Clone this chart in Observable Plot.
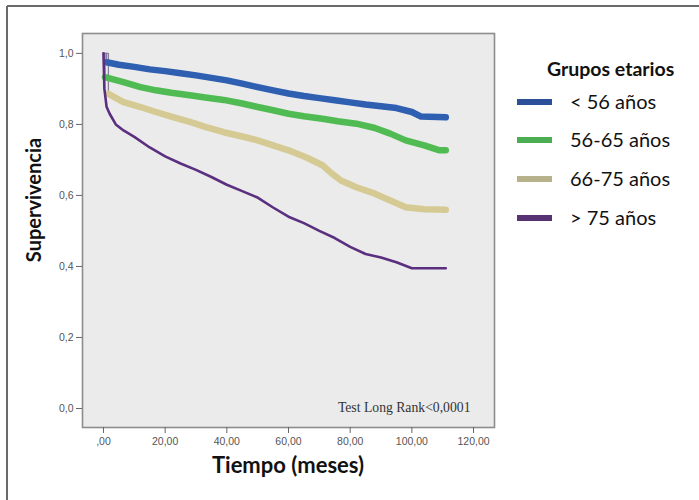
<!DOCTYPE html>
<html><head><meta charset="utf-8">
<script src="https://cdn.jsdelivr.net/npm/d3@7"></script>
<script src="https://cdn.jsdelivr.net/npm/@observablehq/plot@0.6"></script>
<style>body{margin:0;background:#fff}#chart{width:699px;height:500px}</style>
</head><body><div id="chart"></div>
<script>
// ---- data ----
const groups = ["< 56 años", "56-65 años", "66-75 años", "> 75 años"];
const legendTitle = "Grupos etarios";
const xLabel = "Tiempo (meses)";
const yLabel = "Supervivencia";
const note = "Test Long Rank<0,0001";

const tLt56 = [0, 1, 5, 10, 15, 20, 25, 30, 35, 40, 45, 50, 55, 60, 65, 70, 75, 80, 85, 90, 95, 100, 103, 111];
const sLt56 = [1.0, 0.975, 0.968, 0.962, 0.955, 0.950, 0.944, 0.938, 0.931, 0.924, 0.915, 0.905, 0.896, 0.887, 0.880, 0.874, 0.868, 0.862, 0.856, 0.851, 0.846, 0.835, 0.822, 0.820];

const t5665 = [0, 0.5, 6.5, 12, 17, 22, 28, 33, 39, 45, 50, 55, 60, 65, 71, 76, 82, 88, 93, 98, 104, 109, 111];
const s5665 = [1.0, 0.933, 0.919, 0.905, 0.896, 0.889, 0.882, 0.876, 0.869, 0.859, 0.849, 0.840, 0.830, 0.823, 0.816, 0.809, 0.802, 0.790, 0.774, 0.755, 0.741, 0.727, 0.727];

const t6675 = [0, 1.6, 6.5, 12, 17, 22, 28, 33, 39, 45, 50, 55, 60, 66, 71, 74, 77, 82, 88, 93, 98, 104, 111];
const s6675 = [1.0, 0.886, 0.863, 0.849, 0.835, 0.822, 0.807, 0.793, 0.778, 0.766, 0.755, 0.741, 0.727, 0.706, 0.685, 0.662, 0.642, 0.623, 0.605, 0.586, 0.567, 0.561, 0.560];

const tGt75 = [0, 0.3, 1, 2, 4, 6.5, 10, 15, 20, 25, 30, 35, 40, 45, 50, 55, 60, 65, 70, 75, 80, 85, 90, 95, 100, 111];
const sGt75 = [1.0, 0.90, 0.85, 0.83, 0.80, 0.783, 0.765, 0.735, 0.71, 0.69, 0.672, 0.652, 0.63, 0.612, 0.594, 0.566, 0.54, 0.522, 0.50, 0.48, 0.455, 0.435, 0.425, 0.412, 0.395, 0.395];

const xTicks = [0, 20, 40, 60, 80, 100, 120];
const xTickLabels = [",00", "20,00", "40,00", "60,00", "80,00", "100,00", "120,00"];
const yTicks = [0, 0.2, 0.4, 0.6, 0.8, 1.0];
const yTickLabels = ["0,0", "0,2", "0,4", "0,6", "0,8", "1,0"];

// ---- styles ----
const lineColors = ["#2f5fb0", "#50bb52", "#d5ca94", "#5b2f7f"];
const swatchColors = ["#2b4f98", "#4cae52", "#b8b28c", "#573374"];

const series = [[tLt56, sLt56], [t5665, s5665], [t6675, s6675], [tGt75, sGt75]];
const rows = [];
series.forEach(([ts, ss], gi) => ts.forEach((t, i) => rows.push({g: groups[gi], t, s: ss[i]})));
const xFmt = new Map(xTicks.map((d, i) => [d, xTickLabels[i]]));
const yFmt = new Map(yTicks.map((d, i) => [d, yTickLabels[i]]));

const thick = rows.filter(d => d.g !== groups[3] && d.t > 0);
const thin = rows.filter(d => d.g === groups[3]);
const starts = rows.filter(d => d.t === 0 || d === rows.find(r => r.g === d.g && r.t > 0));

const chart = Plot.plot({
  width: 699, height: 500,
  marginLeft: 82, marginRight: 205, marginTop: 33, marginBottom: 73,
  style: {fontFamily: "Liberation Sans, Arial, sans-serif", background: "white"},
  x: {domain: [-6.8, 126.8]},
  y: {domain: [-0.0535, 1.056]},
  color: {domain: groups, range: lineColors},
  marks: [
    Plot.frame({fill: "#ebebeb", stroke: "#8c8c8c", strokeWidth: 1.6}),
    Plot.line(starts, {x: "t", y: "s", z: "g", stroke: "#8a7f9a", strokeWidth: 1.3, curve: "step-after"}),
    Plot.line(thick, {x: "t", y: "s", z: "g", stroke: "g", strokeWidth: 6.5, curve: "linear"}),
    Plot.line(thin, {x: "t", y: "s", z: "g", stroke: "g", strokeWidth: 2.6, curve: "linear"}),
    Plot.axisX({ticks: xTicks, tickFormat: d => xFmt.get(d), tickSize: 6, tickPadding: 4, fontSize: 10.5, color: "#555", label: null, stroke: "#666"}),
    Plot.axisY({ticks: yTicks, tickFormat: d => yFmt.get(d), tickSize: 6, tickPadding: 3, fontSize: 10.5, color: "#555", label: null, stroke: "#666"}),
    Plot.text([note], {frameAnchor: "bottom-right", dx: -24, dy: -20, lineAnchor: "middle", textAnchor: "end", fontFamily: "Liberation Serif, DejaVu Serif, serif", fontSize: 13.7, fill: "#333"})
  ]
});
document.getElementById("chart").appendChild(chart);

// ---- decorations: border, axis titles, legend ----
const svg = d3.select(chart);
svg.append("line").attr("x1", 7).attr("y1", 6).attr("x2", 699).attr("y2", 6).attr("stroke", "#6a6a6a").attr("stroke-width", 2);
svg.append("line").attr("x1", 7).attr("y1", 6).attr("x2", 7).attr("y2", 500).attr("stroke", "#6a6a6a").attr("stroke-width", 2);

const F = "Lato, 'Open Sans', sans-serif";
svg.append("text").text(yLabel).attr("transform", "translate(41,200) rotate(-90)")
  .attr("text-anchor", "middle").attr("font-family", F).attr("font-weight", "bold").attr("font-size", 20).attr("fill", "#111");
svg.append("text").text(xLabel).attr("x", 288).attr("y", 473)
  .attr("text-anchor", "middle").attr("font-family", F).attr("font-weight", "bold").attr("font-size", 22).attr("fill", "#111");

svg.append("text").text(legendTitle).attr("x", 547).attr("y", 76).attr("text-anchor", "start")
  .attr("font-family", F).attr("font-weight", "bold").attr("font-size", 19.5).attr("fill", "#111");
const ly = [102, 140, 179, 218];
groups.forEach((g, i) => {
  svg.append("rect").attr("x", 517).attr("y", ly[i] - 3).attr("width", 35).attr("height", 6).attr("fill", swatchColors[i]);
  svg.append("text").text(g).attr("x", 570).attr("y", ly[i] + 7).attr("text-anchor", "start")
    .attr("font-family", F).attr("font-size", 20).attr("fill", "#111");
});
</script>
</body></html>
